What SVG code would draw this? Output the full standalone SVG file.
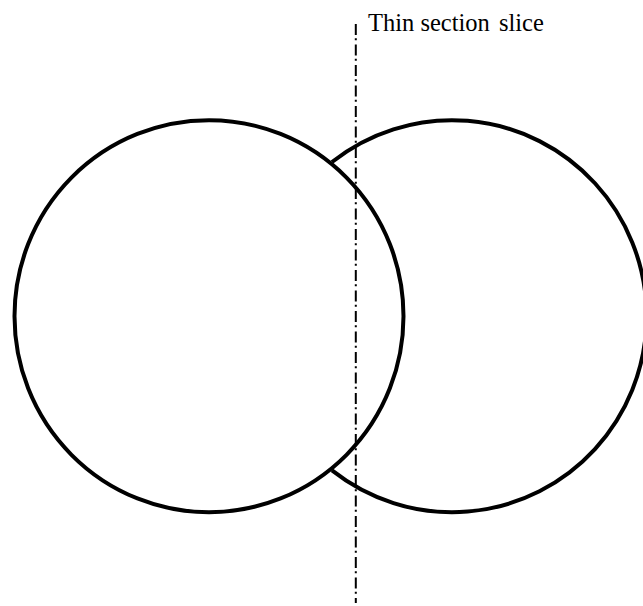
<svg xmlns="http://www.w3.org/2000/svg" width="643" height="606" viewBox="0 0 643 606">
<style>
.outline{fill:none;stroke:#000;stroke-width:4}
.slice{fill:none;stroke:#000;stroke-width:2;stroke-dasharray:11 3.3 2 4.2}
.label{font-family:"Liberation Serif","Times New Roman",serif;font-size:24.5px;fill:#000}
</style>
<rect width="643" height="606" fill="#fff"/>
<g id="left-circle">
<ellipse class="outline" cx="209" cy="316.2" rx="194.5" ry="196"/>
</g>
<g id="right-circle">
<path class="outline" d="M332,162 A194.5,196 0 1 1 332,470.4"/>
</g>
<g id="connectors">
<line class="slice" x1="355.8" y1="24" x2="355.8" y2="603"/>
</g>
<g id="slice-label">
<text class="label" x="368" y="31">Thin section<tspan dx="3"> slice</tspan></text>
</g>
</svg>
